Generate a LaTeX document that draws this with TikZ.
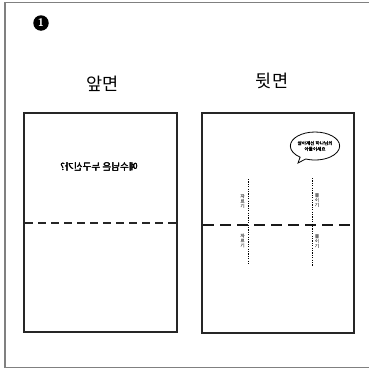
\documentclass[tikz,border=0pt]{standalone}
\usepackage{fontspec}
\usepackage{graphicx}
\setmainfont{Noto Sans CJK KR}
\newfontfamily\krfont{Noto Sans CJK KR}
\newfontfamily\krbold[FakeBold=2]{Noto Sans CJK KR}
\usetikzlibrary{shapes.callouts}
\begin{document}
\begin{tikzpicture}[x=1pt,y=-1pt,
  frameline/.style={draw=black!50, line width=1.2pt},
  sheet/.style={draw=black!85, line width=2pt},
  foldA/.style={draw=black!85, line width=2pt, dash pattern=on 8pt off 5pt},
  foldB/.style={draw=black!90, line width=2.6pt, dash pattern=on 11pt off 6pt},
  cutline/.style={draw=black, line width=0.9pt, dash pattern=on 1.2pt off 1.2pt},
  title/.style={font=\krfont\fontsize{17.5}{19}\selectfont, inner sep=0pt},
  mirrortext/.style={font=\krfont\fontsize{9.6}{10}\selectfont, inner sep=0pt, xscale=-1, transform shape},
  vlabel/.style={font=\krbold\fontsize{4.4}{4.9}\selectfont, text=black!55, align=center, inner sep=0pt}]
\useasboundingbox (0,0) rectangle (369,370);
% outer frame
\coordinate (f1) at (370,2.5);
\coordinate (f2) at (5,2.5);
\coordinate (f3) at (5,367.5);
\coordinate (f4) at (370,367.5);
\draw[frameline] (f1) -- (f2) -- (f3) -- (f4);
% number
\node[circle, fill=black, minimum size=15.5pt, inner sep=0pt, text=white, font=\sffamily\bfseries\fontsize{11}{11}\selectfont] (num) at (41,23) {1};
% titles
\node[title] (tA) at (103,84) {앞면};
\node[title] (tB) at (272,81) {뒷면};
% sheets
\node[sheet, minimum width=153pt, minimum height=219pt, inner sep=0pt] (front) at (100.5,222.5) {};
\node[sheet, minimum width=152pt, minimum height=220pt, inner sep=0pt] (back) at (278,223) {};
% fold lines
\coordinate (fa1) at (25,222.5);
\coordinate (fa2) at (176,222.5);
\draw[foldA] (fa1) -- (fa2);
\coordinate (fb1) at (203,225);
\coordinate (fb2) at (353,225);
\draw[foldB] (fb1) -- (fb2);
% mirrored text (drawn with tiny offsets for weight)
\node[mirrortext] (mirror) at (99,167) {예수님은 누구신가?};
\node[mirrortext] (mirrorb) at (99.3,167) {예수님은 누구신가?};
\node[mirrortext] (mirrorc) at (99.15,167.2) {예수님은 누구신가?};
% speech bubble
\node[ellipse callout, draw=black, line width=0.8pt, minimum width=47pt, minimum height=28pt, inner sep=0pt,
      callout absolute pointer={(298,163)}, align=center,
      font=\krbold\fontsize{4.6}{5.8}\selectfont] (bubble) at (315,146) {살아계신 하나님의\\아들이세요};
% cut lines
\coordinate (c1a) at (248,179);
\coordinate (c1b) at (248,265);
\coordinate (c2a) at (312,178);
\coordinate (c2b) at (312,266);
\draw[cutline] (c1a) -- (c1b);
\draw[cutline] (c2a) -- (c2b);
% labels
\node[vlabel] (l1) at (242.5,201) {자\\르\\기};
\node[vlabel] (l2) at (242.5,240.5) {자\\르\\기};
\node[vlabel] (r1) at (317,200) {붙\\이\\기};
\node[vlabel] (r2) at (317,241) {붙\\이\\기};
\end{tikzpicture}
\end{document}
